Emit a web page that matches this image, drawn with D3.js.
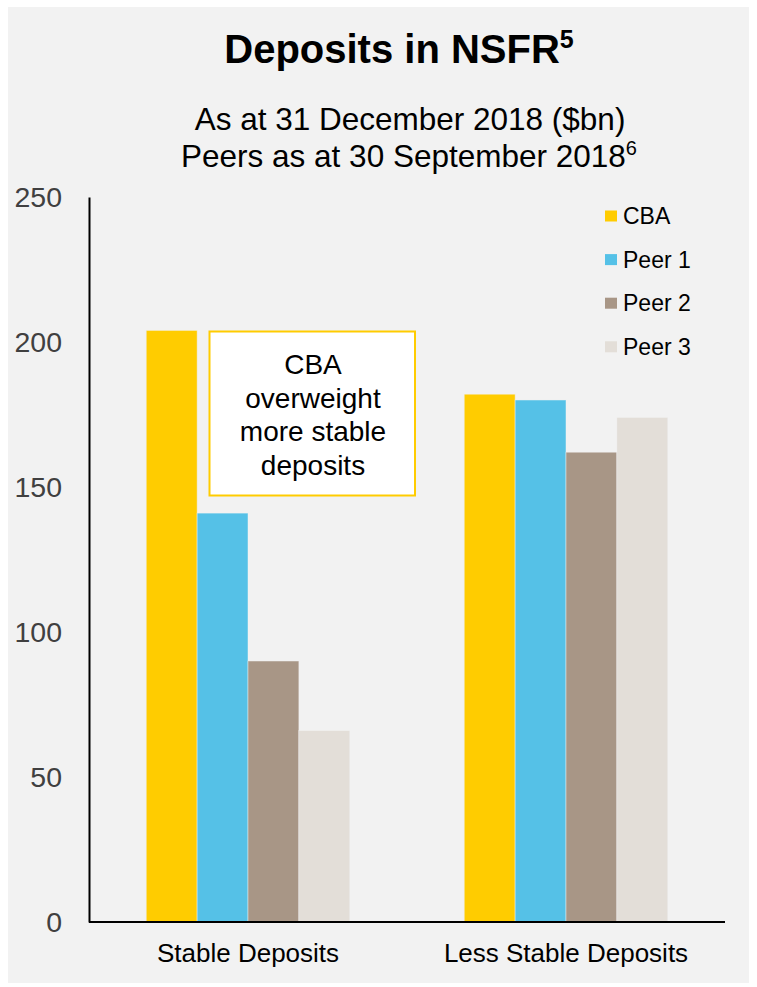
<!DOCTYPE html>
<html>
<head>
<meta charset="utf-8">
<script src="https://cdn.jsdelivr.net/npm/d3@7/dist/d3.min.js"></script>
<style>
  html, body { margin: 0; padding: 0; background: #ffffff; }
  svg { display: block; font-family: "Liberation Sans", Arial, sans-serif; }
</style>
</head>
<body>
<svg id="chart" width="757" height="987"></svg>
<script>
// Deposits in NSFR, $bn
const categories = ["Stable Deposits", "Less Stable Deposits"];
const seriesNames = ["CBA", "Peer 1", "Peer 2", "Peer 3"];
const cbaValues   = [204, 182];
const peer1Values = [141, 180];
const peer2Values = [90, 162];
const peer3Values = [66, 174];
const yTicks = [0, 50, 100, 150, 200, 250];
const seriesColors = ["#FFCC00", "#55C1E7", "#A89686", "#E3DED8"];
const noteLines = ["CBA", "overweight", "more stable", "deposits"];

const seriesValues = [cbaValues, peer1Values, peer2Values, peer3Values];
const rows = categories.map((c, i) => ({
  category: c,
  values: seriesNames.map((s, j) => ({ series: s, value: seriesValues[j][i] }))
}));

const svg = d3.select("#chart");

// panel background
svg.append("rect")
  .attr("x", 8).attr("y", 7).attr("width", 741).attr("height", 976)
  .attr("fill", "#F2F2F2");

// titles
const title = svg.append("text")
  .attr("x", 399).attr("y", 63)
  .attr("text-anchor", "middle")
  .attr("font-size", 40).attr("font-weight", "bold").attr("fill", "#000");
title.append("tspan").text("Deposits in NSFR");
title.append("tspan").text("5").attr("font-size", 25).attr("dy", -15);

svg.append("text")
  .attr("x", 410).attr("y", 130)
  .attr("text-anchor", "middle")
  .attr("font-size", 31.5).attr("fill", "#000")
  .text("As at 31 December 2018 ($bn)");

const sub2 = svg.append("text")
  .attr("x", 409).attr("y", 167)
  .attr("text-anchor", "middle")
  .attr("font-size", 31.5).attr("fill", "#000");
sub2.append("tspan").text("Peers as at 30 September 2018");
sub2.append("tspan").text("6").attr("font-size", 20).attr("dy", -12);

// scales
const x0 = d3.scaleBand().domain(categories).range([89, 725])
  .paddingInner(0.36).paddingOuter(0.18);
const x1 = d3.scaleBand().domain(seriesNames).range([0, x0.bandwidth()]);
const y = d3.scaleLinear().domain([0, 250]).range([922, 197]);
const color = d3.scaleOrdinal().domain(seriesNames).range(seriesColors);

// bars
const groups = svg.append("g").selectAll("g")
  .data(rows).join("g")
  .attr("transform", d => `translate(${x0(d.category)},0)`);

groups.selectAll("rect")
  .data(d => d.values).join("rect")
  .attr("x", d => x1(d.series))
  .attr("y", d => y(d.value))
  .attr("width", x1.bandwidth())
  .attr("height", d => y(0) - y(d.value))
  .attr("fill", d => color(d.series))
  .attr("stroke", "#F2F2F2").attr("stroke-opacity", 0.6).attr("stroke-width", 0.8);

// y axis
const yAxis = svg.append("g")
  .attr("transform", "translate(89,0)")
  .call(d3.axisLeft(y).tickValues(yTicks).tickSize(0).tickPadding(27));
yAxis.select(".domain").attr("stroke", "#000").attr("stroke-width", 2);
yAxis.selectAll("text")
  .attr("font-size", 28.5).attr("fill", "#404040")
  .attr("font-family", "Liberation Sans, Arial, sans-serif");

// x axis
const xAxis = svg.append("g")
  .attr("transform", "translate(0,922)")
  .call(d3.axisBottom(x0).tickSize(0).tickPadding(0));
xAxis.select(".domain").attr("stroke", "#000").attr("stroke-width", 2)
  .attr("d", "M89,0H725");
xAxis.selectAll("text")
  .attr("dy", null).attr("y", 40)
  .attr("font-size", 26).attr("fill", "#000")
  .attr("font-family", "Liberation Sans, Arial, sans-serif");

// legend
const legend = svg.append("g").selectAll("g")
  .data(seriesNames).join("g")
  .attr("transform", (d, i) => `translate(605,${216 + i * 43.6})`);
legend.append("rect")
  .attr("x", 0).attr("y", -5.5).attr("width", 12).attr("height", 11)
  .attr("fill", d => color(d));
legend.append("text")
  .attr("x", 18).attr("y", 8.2)
  .attr("font-size", 23).attr("fill", "#000")
  .text(d => d);

// annotation box
svg.append("rect")
  .attr("x", 209.5).attr("y", 331.5).attr("width", 205.5).attr("height", 164)
  .attr("fill", "#FFFFFF").attr("stroke", "#FFCC00").attr("stroke-width", 2);
svg.append("g").selectAll("text")
  .data(noteLines).join("text")
  .attr("x", 313).attr("y", (d, i) => 374 + i * 33.7)
  .attr("text-anchor", "middle")
  .attr("font-size", 28).attr("fill", "#000")
  .text(d => d);
</script>
</body>
</html>
